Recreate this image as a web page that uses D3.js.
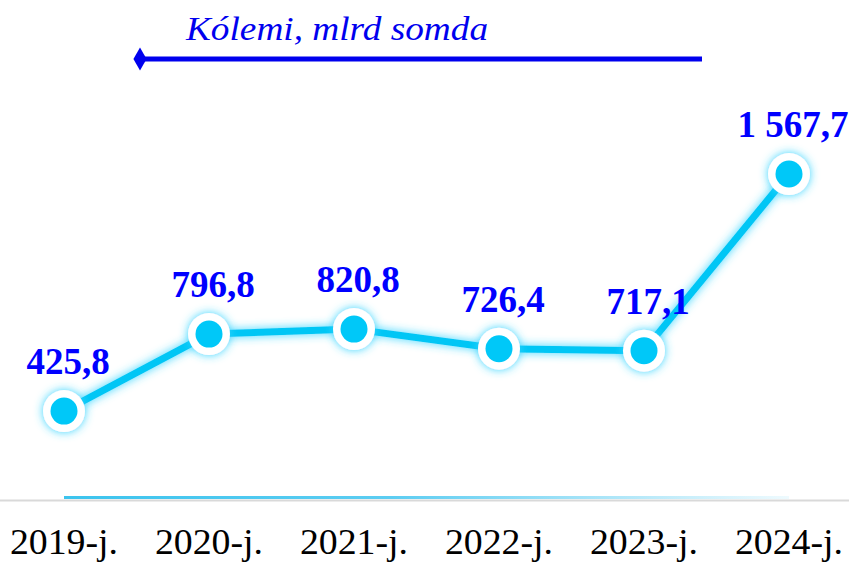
<!DOCTYPE html>
<html>
<head>
<meta charset="utf-8">
<script src="https://cdn.jsdelivr.net/npm/d3@7"></script>
<style>
  html, body { margin: 0; padding: 0; background: #fff; overflow: hidden; }
  svg { display: block; }
</style>
</head>
<body>
<svg id="chart"></svg>
<script>
// data
const years = ["2019-j.", "2020-j.", "2021-j.", "2022-j.", "2023-j.", "2024-j."]
const volume = [425.8, 796.8, 820.8, 726.4, 717.1, 1567.7]
const valueLabels = ["425,8", "796,8", "820,8", "726,4", "717,1", "1 567,7"]
const seriesName = "Kólemi, mlrd somda"

const width = 849
const height = 562
const serif = "'Liberation Serif', 'Times New Roman', serif"

const svg = d3.select("#chart").attr("width", width).attr("height", height)

const x = d3.scalePoint().domain(years).range([64, 789])
const y = d3.scaleLinear().domain([0, 2000]).range([499.5, 84.3])

const defs = svg.append("defs")

const glow = defs.append("filter").attr("id", "glow")
  .attr("x", "-50%").attr("y", "-50%").attr("width", "200%").attr("height", "200%")
glow.append("feGaussianBlur").attr("in", "SourceAlpha").attr("stdDeviation", 5).attr("result", "b")
glow.append("feFlood").attr("flood-color", "#33d4ff").attr("flood-opacity", 1)
glow.append("feComposite").attr("in2", "b").attr("operator", "in").attr("result", "g")
const gm = glow.append("feMerge")
gm.append("feMergeNode").attr("in", "g")
gm.append("feMergeNode").attr("in", "SourceGraphic")

const grad = defs.append("linearGradient").attr("id", "baseGrad")
  .attr("gradientUnits", "userSpaceOnUse")
  .attr("x1", x(years[0])).attr("x2", x(years[years.length - 1]))
  .attr("y1", 0).attr("y2", 0)
grad.append("stop").attr("offset", "0%").attr("stop-color", "#3cc4ee")
grad.append("stop").attr("offset", "45%").attr("stop-color", "#5ccdf2")
grad.append("stop").attr("offset", "100%").attr("stop-color", "#eefafe")

// axis baseline
svg.append("line")
  .attr("x1", 0).attr("x2", width)
  .attr("y1", y(0) + 1).attr("y2", y(0) + 1)
  .attr("stroke", "#d9d9d9").attr("stroke-width", 2)

svg.append("line")
  .attr("x1", x(years[0])).attr("x2", x(years[years.length - 1]))
  .attr("y1", y(0) - 2).attr("y2", y(0) - 2)
  .attr("stroke", "url(#baseGrad)").attr("stroke-width", 3)

// x labels
svg.append("g").selectAll("text")
  .data(years)
  .join("text")
  .attr("transform", d => `translate(${x(d)},554) scale(1.05,1)`)
  .attr("text-anchor", "middle")
  .style("font-family", serif)
  .style("font-size", "36px")
  .attr("fill", "#000")
  .text(d => d)

// line
const line = d3.line()
  .x((d, i) => x(years[i]))
  .y(d => y(d))

svg.append("path")
  .datum(volume)
  .attr("d", line)
  .attr("fill", "none")
  .attr("stroke", "#00c6f5")
  .attr("stroke-width", 7)
  .attr("stroke-linejoin", "round")
  .attr("filter", "url(#glow)")

// markers
const pts = svg.append("g").selectAll("g")
  .data(volume)
  .join("g")
  .attr("transform", (d, i) => `translate(${x(years[i])},${y(d)})`)

pts.append("circle").attr("r", 21).attr("fill", "#fff").attr("filter", "url(#glow)")
pts.append("circle").attr("r", 13.5).attr("fill", "#00c8f8")

// value labels
svg.append("g").selectAll("text")
  .data(volume)
  .join("text")
  .attr("x", (d, i) => x(years[i]) + 4)
  .attr("y", d => y(d) - 37)
  .attr("text-anchor", "middle")
  .style("font-family", serif)
  .style("font-weight", "bold")
  .style("font-size", "37px")
  .attr("fill", "#0000ff")
  .text((d, i) => valueLabels[i])

// legend
const legend = svg.append("g")
legend.append("line")
  .attr("x1", 140).attr("x2", 702)
  .attr("y1", 59).attr("y2", 59)
  .attr("stroke", "#0000ee").attr("stroke-width", 5)
legend.append("path")
  .attr("d", d3.symbol(d3.symbolDiamond, 150)())
  .attr("transform", "translate(140,59)")
  .attr("fill", "#0000ee")
legend.append("text")
  .attr("transform", "translate(186,40) scale(1.13,1)")
  .style("font-family", serif)
  .style("font-style", "italic")
  .style("font-size", "33px")
  .attr("fill", "#0000ee")
  .text(seriesName)
</script>
</body>
</html>
